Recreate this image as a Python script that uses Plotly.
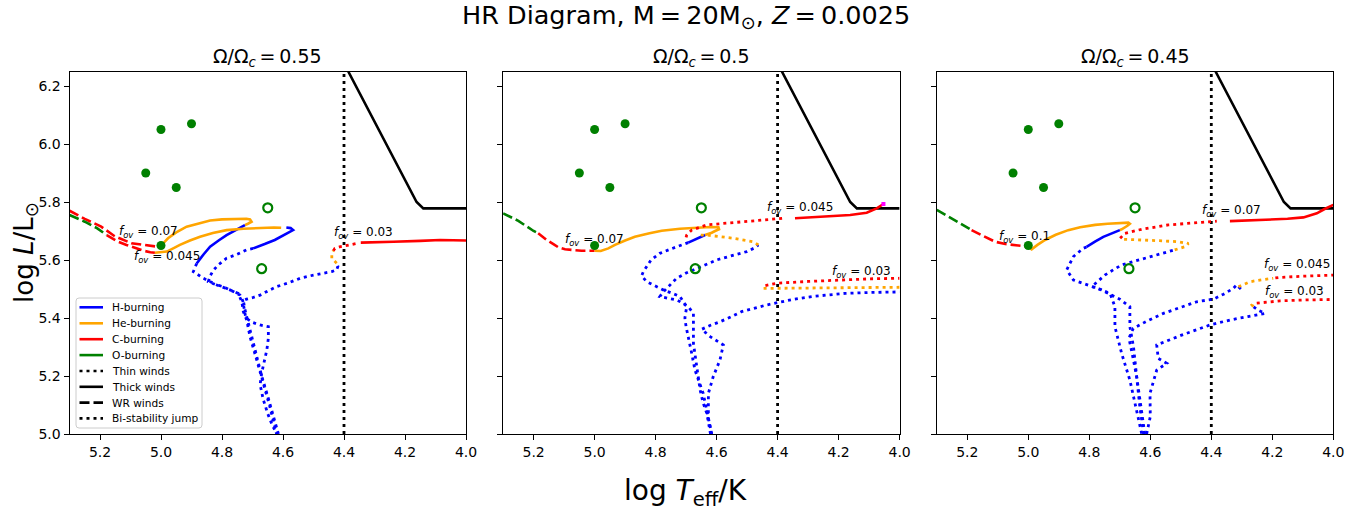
import plotly.graph_objects as go

W, H = 1370, 510
# ---------------- data (log Teff, log L) ----------------
# observed stars (same in every panel)
obs_filled_x = [5.0, 4.9, 5.05, 4.95, 5.0]
obs_filled_y = [6.05, 6.07, 5.9, 5.85, 5.65]
obs_open_x = [4.65, 4.67]
obs_open_y = [5.78, 5.57]

# thick-wind / bi-stability reference lines
thick_x = [4.386, 4.162, 4.14, 4.0]
thick_y = [6.25, 5.80, 5.778, 5.778]
bistab_x = [4.4, 4.4]
bistab_y = [5.0, 6.25]

x_ticks = [5.2, 5.0, 4.8, 4.6, 4.4, 4.2, 4.0]
x_ticklabels = ["5.2", "5.0", "4.8", "4.6", "4.4", "4.2", "4.0"]
y_ticks = [5.0, 5.2, 5.4, 5.6, 5.8, 6.0, 6.2]
y_ticklabels = ["5.0", "5.2", "5.4", "5.6", "5.8", "6.0", "6.2"]
panel_titles = ["Ω/Ω<sub><i>c</i></sub>\u2009=\u20090.55", "Ω/Ω<sub><i>c</i></sub>\u2009=\u20090.5",
                "Ω/Ω<sub><i>c</i></sub>\u2009=\u20090.45"]

# ---- Panel 1 : Omega/Omega_c = 0.55 ----
p1_f07_wrC_x = [5.30, 5.25, 5.196, 5.152, 5.097, 5.043, 5.012]
p1_f07_wrC_y = [5.770, 5.742, 5.715, 5.682, 5.658, 5.651, 5.646]
p1_f07_He_x = [5.012, 4.995, 4.977, 4.95, 4.916, 4.87, 4.839, 4.80, 4.752, 4.72, 4.708, 4.703, 4.715, 4.725]
p1_f07_He_y = [5.646, 5.655, 5.675, 5.695, 5.715, 5.728, 5.736, 5.740, 5.742, 5.742, 5.740, 5.732, 5.725, 5.72]
p1_f07_Hthick_x = [4.725, 4.755, 4.785, 4.81, 4.839, 4.86, 4.883]
p1_f07_Hthick_y = [5.72, 5.703, 5.686, 5.668, 5.646, 5.62, 5.588]
p1_f07_Hthin_x = [4.883, 4.894, 4.861, 4.817, 4.774, 4.747, 4.735, 4.73, 4.719, 4.708, 4.686, 4.665, 4.643, 4.621]
p1_f07_Hthin_y = [5.588, 5.56, 5.537, 5.514, 5.497, 5.485, 5.456, 5.422, 5.393, 5.335, 5.255, 5.175, 5.094, 5.0]

p1_f045_wrO_x = [5.30, 5.25, 5.21, 5.178]
p1_f045_wrO_y = [5.755, 5.732, 5.71, 5.686]
p1_f045_wrC_x = [5.178, 5.145, 5.113, 5.085, 5.058, 5.035, 5.02]
p1_f045_wrC_y = [5.686, 5.665, 5.652, 5.642, 5.632, 5.627, 5.625]
p1_f045_He_x = [5.02, 5.0, 4.981, 4.96, 4.938, 4.905, 4.872, 4.83, 4.785, 4.73, 4.675, 4.63, 4.606]
p1_f045_He_y = [5.625, 5.626, 5.629, 5.640, 5.652, 5.667, 5.68, 5.693, 5.703, 5.708, 5.711, 5.712, 5.711]
p1_f045_Hthick_x = [4.589, 4.575, 4.567, 4.59, 4.627, 4.66, 4.698]
p1_f045_Hthick_y = [5.712, 5.71, 5.703, 5.69, 5.669, 5.655, 5.64]
p1_f045_Hthin_x = [4.698, 4.72, 4.75, 4.785, 4.81, 4.828, 4.839, 4.845, 4.82, 4.796, 4.77, 4.741, 4.732, 4.728, 4.722, 4.70, 4.675, 4.648, 4.648, 4.653, 4.67, 4.675, 4.665, 4.65, 4.635, 4.62]
p1_f045_Hthin_y = [5.64, 5.635, 5.62, 5.606, 5.585, 5.565, 5.545, 5.525, 5.515, 5.508, 5.495, 5.479, 5.46, 5.43, 5.40, 5.385, 5.376, 5.37, 5.33, 5.29, 5.21, 5.17, 5.12, 5.07, 5.03, 5.0]

p1_f03_Hthin_x = [4.615, 4.63, 4.65, 4.67, 4.69, 4.705, 4.715, 4.725, 4.73, 4.72, 4.70, 4.675, 4.65, 4.621, 4.58, 4.544, 4.50, 4.468, 4.44, 4.424, 4.42, 4.424]
p1_f03_Hthin_y = [5.0, 5.06, 5.13, 5.20, 5.28, 5.34, 5.39, 5.43, 5.46, 5.465, 5.47, 5.479, 5.493, 5.508, 5.522, 5.537, 5.548, 5.554, 5.56, 5.566, 5.578, 5.589]
p1_f03_Hethin_x = [4.424, 4.44, 4.44, 4.435]
p1_f03_Hethin_y = [5.589, 5.606, 5.623, 5.632]
p1_f03_Cthin_x = [4.435, 4.43, 4.415, 4.402, 4.38, 4.358]
p1_f03_Cthin_y = [5.632, 5.64, 5.645, 5.648, 5.652, 5.657]
p1_f03_Cthick_x = [4.345, 4.30, 4.238, 4.15, 4.085, 4.0]
p1_f03_Cthick_y = [5.66, 5.662, 5.663, 5.666, 5.669, 5.667]

# ---- Panel 2 : Omega/Omega_c = 0.5 ----
p2_f07_wrO_x = [5.30, 5.25, 5.20, 5.185]
p2_f07_wrO_y = [5.761, 5.735, 5.70, 5.692]
p2_f07_wrC_x = [5.185, 5.157, 5.135, 5.119, 5.097, 5.07, 5.043, 5.0]
p2_f07_wrC_y = [5.692, 5.669, 5.655, 5.644, 5.637, 5.634, 5.632, 5.632]
p2_f07_He_x = [5.0, 4.98, 4.955, 4.933, 4.90, 4.868, 4.82, 4.78, 4.72, 4.671, 4.62, 4.594, 4.592, 4.605, 4.616, 4.638]
p2_f07_He_y = [5.632, 5.631, 5.64, 5.652, 5.667, 5.68, 5.692, 5.701, 5.708, 5.712, 5.714, 5.713, 5.706, 5.70, 5.694, 5.686]
p2_f07_Hthick_x = [4.638, 4.665, 4.693]
p2_f07_Hthick_y = [5.686, 5.673, 5.66]
p2_f07_Hthin_x = [4.693, 4.715, 4.75, 4.786, 4.815, 4.84, 4.846, 4.829, 4.80, 4.775, 4.745, 4.72, 4.698, 4.704, 4.70, 4.693, 4.682, 4.671, 4.655, 4.644, 4.63, 4.616]
p2_f07_Hthin_y = [5.66, 5.652, 5.638, 5.623, 5.60, 5.56, 5.545, 5.525, 5.51, 5.497, 5.485, 5.474, 5.439, 5.40, 5.37, 5.33, 5.28, 5.221, 5.17, 5.14, 5.07, 5.0]

p2_f045_Hthin_x = [4.62, 4.632, 4.645, 4.654, 4.665, 4.676, 4.676, 4.69, 4.709, 4.73, 4.76, 4.786, 4.775, 4.764, 4.75, 4.731, 4.70, 4.665, 4.63, 4.60, 4.55, 4.501, 4.475, 4.463]
p2_f045_Hthin_y = [5.0, 5.071, 5.11, 5.152, 5.232, 5.313, 5.416, 5.435, 5.45, 5.462, 5.468, 5.474, 5.49, 5.502, 5.52, 5.537, 5.555, 5.571, 5.585, 5.60, 5.615, 5.629, 5.642, 5.652]
p2_f045_Hethin_x = [4.463, 4.48, 4.545, 4.60, 4.632, 4.66]
p2_f045_Hethin_y = [5.652, 5.663, 5.675, 5.681, 5.686, 5.686]
p2_f045_Cthin_x = [4.70, 4.698, 4.682, 4.632, 4.545, 4.436, 4.381]
p2_f045_Cthin_y = [5.678, 5.686, 5.703, 5.721, 5.729, 5.74, 5.744]
p2_f045_Cthick_x = [4.343, 4.30, 4.25, 4.20, 4.162, 4.108, 4.075, 4.053]
p2_f045_Cthick_y = [5.744, 5.746, 5.749, 5.752, 5.755, 5.763, 5.778, 5.793]
p2_end_x = [4.053]
p2_end_y = [5.793]

p2_f03_Hthin_x = [4.616, 4.627, 4.627, 4.611, 4.589, 4.578, 4.62, 4.649, 4.62, 4.589, 4.55, 4.518, 4.436, 4.398, 4.35, 4.288, 4.179, 4.10, 4.0]
p2_f03_Hthin_y = [5.0, 5.054, 5.14, 5.198, 5.255, 5.307, 5.335, 5.361, 5.375, 5.387, 5.405, 5.422, 5.445, 5.453, 5.464, 5.474, 5.485, 5.488, 5.49]
p2_f03_Hethin_x = [4.0, 4.1, 4.2, 4.3, 4.40, 4.447, 4.445]
p2_f03_Hethin_y = [5.506, 5.505, 5.505, 5.504, 5.502, 5.502, 5.51]
p2_f03_Cthin_x = [4.44, 4.403, 4.30, 4.20, 4.10, 4.0]
p2_f03_Cthin_y = [5.512, 5.52, 5.526, 5.531, 5.535, 5.537]

# ---- Panel 3 : Omega/Omega_c = 0.45 ----
p3_f10_wrO_x = [5.30, 5.24, 5.186]
p3_f10_wrO_y = [5.773, 5.737, 5.703]
p3_f10_wrC_x = [5.186, 5.15, 5.109, 5.075, 5.033, 5.0]
p3_f10_wrC_y = [5.703, 5.685, 5.663, 5.655, 5.650, 5.646]
p3_f10_He_x = [5.0, 4.989, 4.97, 4.945, 4.91, 4.869, 4.83, 4.781, 4.74, 4.70, 4.672, 4.667, 4.675, 4.694, 4.70]
p3_f10_He_y = [5.646, 5.637, 5.652, 5.669, 5.687, 5.703, 5.713, 5.721, 5.725, 5.727, 5.729, 5.725, 5.718, 5.706, 5.703]
p3_f10_Hthick_x = [4.70, 4.727, 4.754, 4.78, 4.809]
p3_f10_Hthick_y = [5.703, 5.692, 5.68, 5.664, 5.645]
p3_f10_Hthin_x = [4.809, 4.82, 4.852, 4.874, 4.852, 4.82, 4.787, 4.76, 4.732, 4.716, 4.716, 4.705, 4.694, 4.667, 4.65, 4.628]
p3_f10_Hthin_y = [5.645, 5.64, 5.612, 5.566, 5.531, 5.52, 5.508, 5.497, 5.485, 5.439, 5.37, 5.32, 5.278, 5.186, 5.106, 5.0]

p3_f07_Hthin_x = [4.622, 4.635, 4.645, 4.655, 4.667, 4.667, 4.70, 4.73, 4.76, 4.776, 4.792, 4.775, 4.749, 4.72, 4.694, 4.655, 4.618, 4.58, 4.54, 4.52]
p3_f07_Hthin_y = [5.0, 5.10, 5.20, 5.30, 5.37, 5.439, 5.465, 5.48, 5.495, 5.505, 5.508, 5.525, 5.548, 5.567, 5.583, 5.595, 5.606, 5.618, 5.629, 5.635]
p3_f07_Hethin_x = [4.52, 4.486, 4.475, 4.509, 4.56, 4.618, 4.66, 4.699]
p3_f07_Hethin_y = [5.635, 5.646, 5.657, 5.663, 5.666, 5.669, 5.671, 5.672]
p3_f07_Cthin_x = [4.699, 4.683, 4.628, 4.541, 4.431, 4.382]
p3_f07_Cthin_y = [5.675, 5.692, 5.706, 5.721, 5.73, 5.734]
p3_f07_Cthick_x = [4.339, 4.27, 4.207, 4.15, 4.098, 4.075, 4.054, 4.03, 4.0]
p3_f07_Cthick_y = [5.734, 5.736, 5.738, 5.742, 5.747, 5.753, 5.761, 5.775, 5.79]

p3_f045_Hthin_x = [4.618, 4.632, 4.645, 4.66, 4.67, 4.656, 4.61, 4.557, 4.50, 4.448, 4.393, 4.36, 4.328, 4.317, 4.30, 4.311]
p3_f045_Hthin_y = [5.0, 5.10, 5.20, 5.28, 5.33, 5.364, 5.39, 5.416, 5.438, 5.456, 5.465, 5.482, 5.502, 5.514, 5.497, 5.508]
p3_f045_Hethin_x = [4.311, 4.273, 4.235, 4.197]
p3_f045_Hethin_y = [5.508, 5.525, 5.532, 5.537]
p3_f045_Cthin_x = [4.19, 4.175, 4.10, 4.0]
p3_f045_Cthin_y = [5.538, 5.54, 5.544, 5.548]

p3_f03_Hthin_x = [4.612, 4.60, 4.601, 4.579, 4.546, 4.574, 4.579, 4.50, 4.404, 4.339, 4.28, 4.224, 4.246, 4.262]
p3_f03_Hthin_y = [5.0, 5.06, 5.14, 5.22, 5.244, 5.261, 5.307, 5.34, 5.376, 5.393, 5.405, 5.416, 5.427, 5.439]
p3_f03_Hethin_x = [4.262, 4.267, 4.262, 4.255]
p3_f03_Hethin_y = [5.439, 5.445, 5.45, 5.451]
p3_f03_Cthin_x = [4.251, 4.21, 4.175, 4.10, 4.0]
p3_f03_Cthin_y = [5.451, 5.456, 5.459, 5.462, 5.464]

# f_ov labels: (text, x, y)
p1_labels = [("0.07", 5.145, 5.698), ("0.045", 5.096, 5.611), ("0.03", 4.440, 5.694)]
p2_labels = [("0.07", 5.103, 5.669), ("0.045", 4.441, 5.778), ("0.03", 4.228, 5.560)]
p3_labels = [("0.1", 5.104, 5.680), ("0.07", 4.437, 5.770), ("0.045", 4.235, 5.583), ("0.03", 4.230, 5.490)]

legend_labels = ["H-burning", "He-burning", "C-burning", "O-burning", "Thin winds", "Thick winds", "WR winds", "Bi-stability jump"]

# ---------------- styles ----------------
COL = {"H": "#0000ff", "He": "#ffa500", "C": "#ff0000", "O": "#008000", "k": "#000000"}
DASH = {"thin": "3px,4px", "thick": "solid", "wr": "10px,4px"}
LW = {"thin": 2.8, "thick": 2.6, "wr": 2.6}
FONT = "DejaVu Sans"

panel1 = [
    (p1_f07_wrC_x, p1_f07_wrC_y, "C", "wr"), (p1_f07_He_x, p1_f07_He_y, "He", "thick"),
    (p1_f07_Hthick_x, p1_f07_Hthick_y, "H", "thick"), (p1_f07_Hthin_x, p1_f07_Hthin_y, "H", "thin"),
    (p1_f045_wrO_x, p1_f045_wrO_y, "O", "wr"), (p1_f045_wrC_x, p1_f045_wrC_y, "C", "wr"),
    (p1_f045_He_x, p1_f045_He_y, "He", "thick"), (p1_f045_Hthick_x, p1_f045_Hthick_y, "H", "thick"),
    (p1_f045_Hthin_x, p1_f045_Hthin_y, "H", "thin"),
    (p1_f03_Hthin_x, p1_f03_Hthin_y, "H", "thin"), (p1_f03_Hethin_x, p1_f03_Hethin_y, "He", "thin"),
    (p1_f03_Cthin_x, p1_f03_Cthin_y, "C", "thin"), (p1_f03_Cthick_x, p1_f03_Cthick_y, "C", "thick"),
]
panel2 = [
    (p2_f07_wrO_x, p2_f07_wrO_y, "O", "wr"), (p2_f07_wrC_x, p2_f07_wrC_y, "C", "wr"),
    (p2_f07_He_x, p2_f07_He_y, "He", "thick"), (p2_f07_Hthick_x, p2_f07_Hthick_y, "H", "thick"),
    (p2_f07_Hthin_x, p2_f07_Hthin_y, "H", "thin"),
    (p2_f045_Hthin_x, p2_f045_Hthin_y, "H", "thin"), (p2_f045_Hethin_x, p2_f045_Hethin_y, "He", "thin"),
    (p2_f045_Cthin_x, p2_f045_Cthin_y, "C", "thin"), (p2_f045_Cthick_x, p2_f045_Cthick_y, "C", "thick"),
    (p2_f03_Hthin_x, p2_f03_Hthin_y, "H", "thin"), (p2_f03_Hethin_x, p2_f03_Hethin_y, "He", "thin"),
    (p2_f03_Cthin_x, p2_f03_Cthin_y, "C", "thin"),
]
panel3 = [
    (p3_f10_wrO_x, p3_f10_wrO_y, "O", "wr"), (p3_f10_wrC_x, p3_f10_wrC_y, "C", "wr"),
    (p3_f10_He_x, p3_f10_He_y, "He", "thick"), (p3_f10_Hthick_x, p3_f10_Hthick_y, "H", "thick"),
    (p3_f10_Hthin_x, p3_f10_Hthin_y, "H", "thin"),
    (p3_f07_Hthin_x, p3_f07_Hthin_y, "H", "thin"), (p3_f07_Hethin_x, p3_f07_Hethin_y, "He", "thin"),
    (p3_f07_Cthin_x, p3_f07_Cthin_y, "C", "thin"), (p3_f07_Cthick_x, p3_f07_Cthick_y, "C", "thick"),
    (p3_f045_Hthin_x, p3_f045_Hthin_y, "H", "thin"), (p3_f045_Hethin_x, p3_f045_Hethin_y, "He", "thin"),
    (p3_f045_Cthin_x, p3_f045_Cthin_y, "C", "thin"),
    (p3_f03_Hthin_x, p3_f03_Hthin_y, "H", "thin"), (p3_f03_Hethin_x, p3_f03_Hethin_y, "He", "thin"),
    (p3_f03_Cthin_x, p3_f03_Cthin_y, "C", "thin"),
]

# ---------------- layout geometry (pixels) ----------------
XDOM = [(69.5, 466.0), (503.1, 899.6), (936.8, 1333.3)]
YTOP, YBOT = 71.5, 434.0


def px(x):
    return x / W


def py(y):
    return 1 - y / H


fig = go.Figure()
axes = [("x", "y"), ("x2", "y2"), ("x3", "y3")]

for i, (segs, labels) in enumerate([(panel1, p1_labels), (panel2, p2_labels), (panel3, p3_labels)]):
    xa, ya = axes[i]
    fig.add_trace(go.Scatter(x=bistab_x, y=bistab_y, mode="lines", xaxis=xa, yaxis=ya,
                             line=dict(color="black", width=2.8, dash=DASH["thin"]),
                             showlegend=False, hoverinfo="skip"))
    fig.add_trace(go.Scatter(x=thick_x, y=thick_y, mode="lines", xaxis=xa, yaxis=ya,
                             line=dict(color="black", width=2.6),
                             showlegend=False, hoverinfo="skip"))
    for xs, ys, phase, wind in segs:
        fig.add_trace(go.Scatter(x=xs, y=ys, mode="lines", xaxis=xa, yaxis=ya,
                                 line=dict(color=COL[phase], width=LW[wind], dash=DASH[wind]),
                                 showlegend=False, hoverinfo="skip"))
    if i == 1:
        fig.add_trace(go.Scatter(x=p2_end_x, y=p2_end_y, mode="markers", xaxis=xa, yaxis=ya,
                                 marker=dict(color="#ff00ff", size=4, symbol="square"),
                                 showlegend=False, hoverinfo="skip"))
    fig.add_trace(go.Scatter(x=obs_filled_x, y=obs_filled_y, mode="markers", xaxis=xa, yaxis=ya,
                             marker=dict(color="green", size=9), showlegend=False))
    fig.add_trace(go.Scatter(x=obs_open_x, y=obs_open_y, mode="markers", xaxis=xa, yaxis=ya,
                             marker=dict(color="green", size=9, symbol="circle-open", line=dict(width=2.2)),
                             showlegend=False))
    for txt, lx, ly in labels:
        fig.add_annotation(x=lx, y=ly, xref=xa, yref=ya, xanchor="left", yanchor="middle",
                           text="<i>f</i><sub><i>ov</i></sub> = " + txt, showarrow=False,
                           font=dict(family=FONT, size=12, color="black"))

layout = dict(width=W, height=H, margin=dict(l=0, r=0, t=0, b=0, autoexpand=False),
              paper_bgcolor="white", plot_bgcolor="white", showlegend=False)
for i in range(3):
    sfx = "" if i == 0 else str(i + 1)
    layout["xaxis" + sfx] = dict(domain=[px(XDOM[i][0]), px(XDOM[i][1])], range=[5.3, 4.0],
                                 anchor="y" + sfx, tickvals=x_ticks, ticktext=x_ticklabels,
                                 showline=True, mirror=True, linecolor="black", linewidth=1,
                                 ticks="outside", ticklen=5, tickcolor="black", showgrid=False,
                                 zeroline=False, automargin=False,
                                 tickfont=dict(family=FONT, size=14, color="black"))
    layout["yaxis" + sfx] = dict(domain=[py(YBOT), py(YTOP)], range=[5.0, 6.25],
                                 anchor="x" + sfx, tickvals=y_ticks, ticktext=y_ticklabels,
                                 showticklabels=(i == 0),
                                 showline=True, mirror=True, linecolor="black", linewidth=1,
                                 ticks="outside", ticklen=5, tickcolor="black", showgrid=False,
                                 zeroline=False, automargin=False,
                                 tickfont=dict(family=FONT, size=14, color="black"))
fig.update_layout(**layout)


def text_at(xp, yp, text, size, angle=0):
    fig.add_annotation(x=px(xp), y=py(yp), xref="paper", yref="paper", xanchor="center",
                       yanchor="middle", showarrow=False, text=text, textangle=angle,
                       font=dict(family=FONT, size=size, color="black"))


text_at(686, 17, "HR Diagram, M\u2009=\u200920M<sub>⊙</sub>, <i>Z</i>\u2009=\u20090.0025", 25.5)
for i in range(3):
    text_at((XDOM[i][0] + XDOM[i][1]) / 2, 57, panel_titles[i], 19)
text_at(685, 492, "log <i>T</i><sub>eff</sub>/K", 28)
text_at(25, 252, "log <i>L</i>/L<sub>⊙</sub>", 26, angle=-90)

# legend (drawn in panel 1, lower left)
lx0, ly0, lx1, ly1, r = 76, 298, 202, 428, 3
path = (f"M {px(lx0 + r)},{py(ly0)} L {px(lx1 - r)},{py(ly0)} Q {px(lx1)},{py(ly0)} {px(lx1)},{py(ly0 + r)} "
        f"L {px(lx1)},{py(ly1 - r)} Q {px(lx1)},{py(ly1)} {px(lx1 - r)},{py(ly1)} "
        f"L {px(lx0 + r)},{py(ly1)} Q {px(lx0)},{py(ly1)} {px(lx0)},{py(ly1 - r)} "
        f"L {px(lx0)},{py(ly0 + r)} Q {px(lx0)},{py(ly0)} {px(lx0 + r)},{py(ly0)} Z")
fig.add_shape(type="path", path=path, xref="paper", yref="paper",
              line=dict(color="#cccccc", width=1), fillcolor="rgba(255,255,255,0.8)", layer="above")
leg_styles = [(COL["H"], "solid"), (COL["He"], "solid"), (COL["C"], "solid"), (COL["O"], "solid"),
              ("black", DASH["thin"]), ("black", "solid"), ("black", DASH["wr"]), ("black", DASH["thin"])]
leg_y = [307.3, 323.3, 339.2, 355.1, 371.0, 386.8, 402.6, 418.4]
for lab, (c, d), yy in zip(legend_labels, leg_styles, leg_y):
    fig.add_shape(type="line", x0=px(79.5), x1=px(103), y0=py(yy), y1=py(yy), xref="paper", yref="paper",
                  line=dict(color=c, width=2.6, dash=d), layer="above")
    fig.add_annotation(x=px(110), y=py(yy), xref="paper", yref="paper", xanchor="left", yanchor="middle",
                       showarrow=False, text=lab, font=dict(family=FONT, size=10.6, color="black"))

fig.write_html("out.html", post_script="document.body.style.margin='0';document.body.style.overflow='hidden';")
